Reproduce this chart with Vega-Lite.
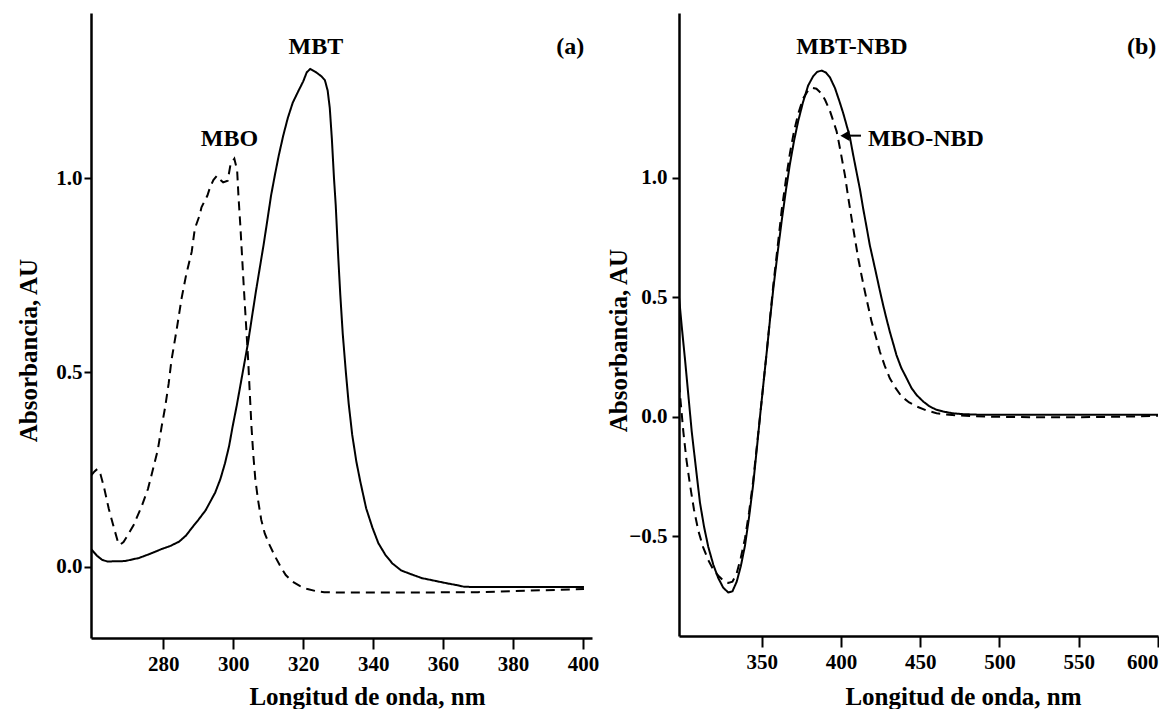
{
  "$schema": "https://vega.github.io/schema/vega-lite/v6.json",
  "background": "white",
  "padding": {"left": 16, "top": 13, "right": 0, "bottom": 0},
  "bounds": "flush",
  "spacing": 87,
  "config": {
    "view": {"stroke": null},
    "font": "Liberation Serif",
    "axis": {
      "grid": false,
      "domainColor": "black",
      "domainWidth": 2.5,
      "tickColor": "black",
      "tickWidth": 2,
      "labelColor": "black",
      "labelFont": "Liberation Serif",
      "labelFontWeight": "bold",
      "labelFontSize": 21,
      "titleColor": "black",
      "titleFont": "Liberation Serif",
      "titleFontWeight": "bold",
      "titleFontSize": 25
    }
  },
  "datasets": {
    "a": [
      {"nm": 259.3, "A": 0.045, "s": "MBT"}, {"nm": 261, "A": 0.028, "s": "MBT"}, {"nm": 262.5, "A": 0.017, "s": "MBT"}, {"nm": 264, "A": 0.013, "s": "MBT"}, {"nm": 269, "A": 0.014, "s": "MBT"}, {"nm": 273, "A": 0.022, "s": "MBT"}, {"nm": 276, "A": 0.032, "s": "MBT"}, {"nm": 279.5, "A": 0.045, "s": "MBT"}, {"nm": 282, "A": 0.053, "s": "MBT"}, {"nm": 284.5, "A": 0.064, "s": "MBT"}, {"nm": 286.5, "A": 0.08, "s": "MBT"}, {"nm": 288.2, "A": 0.1, "s": "MBT"}, {"nm": 290, "A": 0.12, "s": "MBT"}, {"nm": 292.1, "A": 0.145, "s": "MBT"}, {"nm": 294.8, "A": 0.19, "s": "MBT"}, {"nm": 296.3, "A": 0.225, "s": "MBT"}, {"nm": 297.6, "A": 0.265, "s": "MBT"}, {"nm": 298.8, "A": 0.31, "s": "MBT"}, {"nm": 299.8, "A": 0.36, "s": "MBT"}, {"nm": 301, "A": 0.415, "s": "MBT"}, {"nm": 302.1, "A": 0.47, "s": "MBT"}, {"nm": 303.2, "A": 0.525, "s": "MBT"}, {"nm": 304.2, "A": 0.575, "s": "MBT"}, {"nm": 305.3, "A": 0.64, "s": "MBT"}, {"nm": 306.5, "A": 0.71, "s": "MBT"}, {"nm": 307.6, "A": 0.77, "s": "MBT"}, {"nm": 308.7, "A": 0.83, "s": "MBT"}, {"nm": 309.8, "A": 0.895, "s": "MBT"}, {"nm": 310.8, "A": 0.955, "s": "MBT"}, {"nm": 311.9, "A": 1.008, "s": "MBT"}, {"nm": 313, "A": 1.058, "s": "MBT"}, {"nm": 314.3, "A": 1.11, "s": "MBT"}, {"nm": 315.6, "A": 1.155, "s": "MBT"}, {"nm": 317, "A": 1.194, "s": "MBT"}, {"nm": 318.5, "A": 1.222, "s": "MBT"}, {"nm": 320, "A": 1.249, "s": "MBT"}, {"nm": 321, "A": 1.272, "s": "MBT"}, {"nm": 322, "A": 1.281, "s": "MBT"}, {"nm": 323.6, "A": 1.273, "s": "MBT"}, {"nm": 325.2, "A": 1.262, "s": "MBT"}, {"nm": 326.2, "A": 1.252, "s": "MBT"}, {"nm": 327, "A": 1.225, "s": "MBT"}, {"nm": 327.6, "A": 1.18, "s": "MBT"}, {"nm": 328.2, "A": 1.1, "s": "MBT"}, {"nm": 328.8, "A": 1.0, "s": "MBT"}, {"nm": 329.3, "A": 0.93, "s": "MBT"}, {"nm": 330.0, "A": 0.8, "s": "MBT"}, {"nm": 330.6, "A": 0.7, "s": "MBT"}, {"nm": 331.3, "A": 0.6, "s": "MBT"}, {"nm": 332.2, "A": 0.5, "s": "MBT"}, {"nm": 333, "A": 0.42, "s": "MBT"}, {"nm": 334, "A": 0.34, "s": "MBT"}, {"nm": 335.2, "A": 0.27, "s": "MBT"}, {"nm": 336.3, "A": 0.22, "s": "MBT"}, {"nm": 338, "A": 0.15, "s": "MBT"}, {"nm": 339.8, "A": 0.1, "s": "MBT"}, {"nm": 341.5, "A": 0.06, "s": "MBT"}, {"nm": 343.5, "A": 0.03, "s": "MBT"}, {"nm": 345.5, "A": 0.008, "s": "MBT"}, {"nm": 348, "A": -0.01, "s": "MBT"}, {"nm": 350.6, "A": -0.019, "s": "MBT"}, {"nm": 354, "A": -0.03, "s": "MBT"}, {"nm": 357.8, "A": -0.037, "s": "MBT"}, {"nm": 361, "A": -0.043, "s": "MBT"}, {"nm": 364, "A": -0.048, "s": "MBT"}, {"nm": 366, "A": -0.052, "s": "MBT"}, {"nm": 370, "A": -0.053, "s": "MBT"}, {"nm": 380, "A": -0.053, "s": "MBT"}, {"nm": 390, "A": -0.053, "s": "MBT"}, {"nm": 400.3, "A": -0.053, "s": "MBT"},
      {"nm": 259.3, "A": 0.234, "s": "MBO"}, {"nm": 260.3, "A": 0.245, "s": "MBO"}, {"nm": 261.1, "A": 0.251, "s": "MBO"}, {"nm": 262, "A": 0.238, "s": "MBO"}, {"nm": 263, "A": 0.205, "s": "MBO"}, {"nm": 264.4, "A": 0.148, "s": "MBO"}, {"nm": 265.7, "A": 0.105, "s": "MBO"}, {"nm": 267.1, "A": 0.06, "s": "MBO"}, {"nm": 267.6, "A": 0.056, "s": "MBO"}, {"nm": 268.6, "A": 0.063, "s": "MBO"}, {"nm": 269.9, "A": 0.082, "s": "MBO"}, {"nm": 271.5, "A": 0.107, "s": "MBO"}, {"nm": 273.8, "A": 0.155, "s": "MBO"}, {"nm": 275.6, "A": 0.2, "s": "MBO"}, {"nm": 276.6, "A": 0.235, "s": "MBO"}, {"nm": 278.4, "A": 0.3, "s": "MBO"}, {"nm": 279.5, "A": 0.36, "s": "MBO"}, {"nm": 280.5, "A": 0.41, "s": "MBO"}, {"nm": 281.5, "A": 0.47, "s": "MBO"}, {"nm": 282.3, "A": 0.53, "s": "MBO"}, {"nm": 283.8, "A": 0.61, "s": "MBO"}, {"nm": 285.2, "A": 0.69, "s": "MBO"}, {"nm": 286.5, "A": 0.75, "s": "MBO"}, {"nm": 288.1, "A": 0.81, "s": "MBO"}, {"nm": 289, "A": 0.87, "s": "MBO"}, {"nm": 290.4, "A": 0.905, "s": "MBO"}, {"nm": 290.9, "A": 0.925, "s": "MBO"}, {"nm": 292.6, "A": 0.955, "s": "MBO"}, {"nm": 293.3, "A": 0.975, "s": "MBO"}, {"nm": 294.3, "A": 0.995, "s": "MBO"}, {"nm": 295.3, "A": 1.006, "s": "MBO"}, {"nm": 296.2, "A": 0.996, "s": "MBO"}, {"nm": 297.1, "A": 0.989, "s": "MBO"}, {"nm": 298.4, "A": 0.993, "s": "MBO"}, {"nm": 299.2, "A": 1.035, "s": "MBO"}, {"nm": 300.3, "A": 1.05, "s": "MBO"}, {"nm": 301.1, "A": 1.02, "s": "MBO"}, {"nm": 301.5, "A": 0.95, "s": "MBO"}, {"nm": 302, "A": 0.88, "s": "MBO"}, {"nm": 302.5, "A": 0.8, "s": "MBO"}, {"nm": 303, "A": 0.72, "s": "MBO"}, {"nm": 303.6, "A": 0.63, "s": "MBO"}, {"nm": 304.2, "A": 0.54, "s": "MBO"}, {"nm": 304.7, "A": 0.45, "s": "MBO"}, {"nm": 305.2, "A": 0.36, "s": "MBO"}, {"nm": 305.7, "A": 0.29, "s": "MBO"}, {"nm": 306.3, "A": 0.225, "s": "MBO"}, {"nm": 307.1, "A": 0.17, "s": "MBO"}, {"nm": 308, "A": 0.12, "s": "MBO"}, {"nm": 309, "A": 0.085, "s": "MBO"}, {"nm": 310.4, "A": 0.055, "s": "MBO"}, {"nm": 312, "A": 0.025, "s": "MBO"}, {"nm": 313.5, "A": 0.0, "s": "MBO"}, {"nm": 315, "A": -0.022, "s": "MBO"}, {"nm": 316.8, "A": -0.038, "s": "MBO"}, {"nm": 319, "A": -0.05, "s": "MBO"}, {"nm": 321.2, "A": -0.058, "s": "MBO"}, {"nm": 323.5, "A": -0.063, "s": "MBO"}, {"nm": 326, "A": -0.066, "s": "MBO"}, {"nm": 332, "A": -0.067, "s": "MBO"}, {"nm": 350, "A": -0.067, "s": "MBO"}, {"nm": 370, "A": -0.066, "s": "MBO"}, {"nm": 385, "A": -0.062, "s": "MBO"}, {"nm": 393, "A": -0.06, "s": "MBO"}, {"nm": 400.3, "A": -0.058, "s": "MBO"}
    ],
    "b": [
      {"nm": 297.8, "A": 0.5, "s": "MBT-NBD"}, {"nm": 299.5, "A": 0.38, "s": "MBT-NBD"}, {"nm": 301.6, "A": 0.239, "s": "MBT-NBD"}, {"nm": 303.7, "A": 0.09, "s": "MBT-NBD"}, {"nm": 305.8, "A": -0.06, "s": "MBT-NBD"}, {"nm": 308.4, "A": -0.21, "s": "MBT-NBD"}, {"nm": 311, "A": -0.358, "s": "MBT-NBD"}, {"nm": 313.6, "A": -0.46, "s": "MBT-NBD"}, {"nm": 316.3, "A": -0.545, "s": "MBT-NBD"}, {"nm": 319.5, "A": -0.62, "s": "MBT-NBD"}, {"nm": 322.6, "A": -0.675, "s": "MBT-NBD"}, {"nm": 325.7, "A": -0.715, "s": "MBT-NBD"}, {"nm": 328.9, "A": -0.735, "s": "MBT-NBD"}, {"nm": 331.5, "A": -0.73, "s": "MBT-NBD"}, {"nm": 334.2, "A": -0.69, "s": "MBT-NBD"}, {"nm": 336.8, "A": -0.625, "s": "MBT-NBD"}, {"nm": 339.4, "A": -0.54, "s": "MBT-NBD"}, {"nm": 342, "A": -0.42, "s": "MBT-NBD"}, {"nm": 344.6, "A": -0.283, "s": "MBT-NBD"}, {"nm": 346.8, "A": -0.14, "s": "MBT-NBD"}, {"nm": 348.9, "A": 0.0, "s": "MBT-NBD"}, {"nm": 351, "A": 0.135, "s": "MBT-NBD"}, {"nm": 353.1, "A": 0.268, "s": "MBT-NBD"}, {"nm": 355.2, "A": 0.405, "s": "MBT-NBD"}, {"nm": 357.3, "A": 0.536, "s": "MBT-NBD"}, {"nm": 360, "A": 0.685, "s": "MBT-NBD"}, {"nm": 362.6, "A": 0.82, "s": "MBT-NBD"}, {"nm": 365.2, "A": 0.945, "s": "MBT-NBD"}, {"nm": 367.8, "A": 1.058, "s": "MBT-NBD"}, {"nm": 370.4, "A": 1.155, "s": "MBT-NBD"}, {"nm": 373, "A": 1.237, "s": "MBT-NBD"}, {"nm": 376, "A": 1.315, "s": "MBT-NBD"}, {"nm": 379.3, "A": 1.386, "s": "MBT-NBD"}, {"nm": 382.5, "A": 1.425, "s": "MBT-NBD"}, {"nm": 385, "A": 1.443, "s": "MBT-NBD"}, {"nm": 387.8, "A": 1.448, "s": "MBT-NBD"}, {"nm": 390.5, "A": 1.44, "s": "MBT-NBD"}, {"nm": 393, "A": 1.42, "s": "MBT-NBD"}, {"nm": 396.2, "A": 1.375, "s": "MBT-NBD"}, {"nm": 399, "A": 1.32, "s": "MBT-NBD"}, {"nm": 401.4, "A": 1.27, "s": "MBT-NBD"}, {"nm": 403.5, "A": 1.22, "s": "MBT-NBD"}, {"nm": 405.6, "A": 1.17, "s": "MBT-NBD"}, {"nm": 407.7, "A": 1.095, "s": "MBT-NBD"}, {"nm": 409.8, "A": 1.024, "s": "MBT-NBD"}, {"nm": 412, "A": 0.95, "s": "MBT-NBD"}, {"nm": 414, "A": 0.871, "s": "MBT-NBD"}, {"nm": 416.1, "A": 0.795, "s": "MBT-NBD"}, {"nm": 418.2, "A": 0.717, "s": "MBT-NBD"}, {"nm": 420.3, "A": 0.655, "s": "MBT-NBD"}, {"nm": 422.4, "A": 0.592, "s": "MBT-NBD"}, {"nm": 424.5, "A": 0.528, "s": "MBT-NBD"}, {"nm": 426.6, "A": 0.467, "s": "MBT-NBD"}, {"nm": 428.7, "A": 0.41, "s": "MBT-NBD"}, {"nm": 430.8, "A": 0.356, "s": "MBT-NBD"}, {"nm": 433, "A": 0.305, "s": "MBT-NBD"}, {"nm": 435, "A": 0.258, "s": "MBT-NBD"}, {"nm": 438, "A": 0.205, "s": "MBT-NBD"}, {"nm": 441.4, "A": 0.161, "s": "MBT-NBD"}, {"nm": 444.5, "A": 0.12, "s": "MBT-NBD"}, {"nm": 447.7, "A": 0.091, "s": "MBT-NBD"}, {"nm": 452, "A": 0.063, "s": "MBT-NBD"}, {"nm": 456, "A": 0.043, "s": "MBT-NBD"}, {"nm": 460, "A": 0.03, "s": "MBT-NBD"}, {"nm": 464.5, "A": 0.022, "s": "MBT-NBD"}, {"nm": 470, "A": 0.015, "s": "MBT-NBD"}, {"nm": 477, "A": 0.011, "s": "MBT-NBD"}, {"nm": 490, "A": 0.008, "s": "MBT-NBD"}, {"nm": 520, "A": 0.008, "s": "MBT-NBD"}, {"nm": 560, "A": 0.008, "s": "MBT-NBD"}, {"nm": 600, "A": 0.008, "s": "MBT-NBD"},
      {"nm": 297.8, "A": 0.14, "s": "MBO-NBD"}, {"nm": 300.5, "A": -0.06, "s": "MBO-NBD"}, {"nm": 302.5, "A": -0.18, "s": "MBO-NBD"}, {"nm": 304.7, "A": -0.283, "s": "MBO-NBD"}, {"nm": 307.3, "A": -0.39, "s": "MBO-NBD"}, {"nm": 310, "A": -0.477, "s": "MBO-NBD"}, {"nm": 313, "A": -0.545, "s": "MBO-NBD"}, {"nm": 316.3, "A": -0.6, "s": "MBO-NBD"}, {"nm": 319.5, "A": -0.64, "s": "MBO-NBD"}, {"nm": 322.6, "A": -0.665, "s": "MBO-NBD"}, {"nm": 325.7, "A": -0.685, "s": "MBO-NBD"}, {"nm": 328.9, "A": -0.695, "s": "MBO-NBD"}, {"nm": 331.5, "A": -0.69, "s": "MBO-NBD"}, {"nm": 334.2, "A": -0.655, "s": "MBO-NBD"}, {"nm": 336.8, "A": -0.59, "s": "MBO-NBD"}, {"nm": 339.4, "A": -0.51, "s": "MBO-NBD"}, {"nm": 342, "A": -0.4, "s": "MBO-NBD"}, {"nm": 344.6, "A": -0.268, "s": "MBO-NBD"}, {"nm": 346.8, "A": -0.13, "s": "MBO-NBD"}, {"nm": 348.9, "A": 0.0, "s": "MBO-NBD"}, {"nm": 351, "A": 0.135, "s": "MBO-NBD"}, {"nm": 353.1, "A": 0.268, "s": "MBO-NBD"}, {"nm": 355.2, "A": 0.41, "s": "MBO-NBD"}, {"nm": 357.3, "A": 0.552, "s": "MBO-NBD"}, {"nm": 360, "A": 0.71, "s": "MBO-NBD"}, {"nm": 362.6, "A": 0.865, "s": "MBO-NBD"}, {"nm": 365.2, "A": 0.99, "s": "MBO-NBD"}, {"nm": 367.8, "A": 1.103, "s": "MBO-NBD"}, {"nm": 370.4, "A": 1.195, "s": "MBO-NBD"}, {"nm": 373, "A": 1.267, "s": "MBO-NBD"}, {"nm": 376, "A": 1.33, "s": "MBO-NBD"}, {"nm": 379.3, "A": 1.366, "s": "MBO-NBD"}, {"nm": 382, "A": 1.376, "s": "MBO-NBD"}, {"nm": 384.5, "A": 1.372, "s": "MBO-NBD"}, {"nm": 387.8, "A": 1.351, "s": "MBO-NBD"}, {"nm": 390, "A": 1.325, "s": "MBO-NBD"}, {"nm": 393, "A": 1.28, "s": "MBO-NBD"}, {"nm": 395, "A": 1.24, "s": "MBO-NBD"}, {"nm": 397.2, "A": 1.195, "s": "MBO-NBD"}, {"nm": 398.2, "A": 1.163, "s": "MBO-NBD"}, {"nm": 400, "A": 1.1, "s": "MBO-NBD"}, {"nm": 402.5, "A": 1.01, "s": "MBO-NBD"}, {"nm": 404.5, "A": 0.92, "s": "MBO-NBD"}, {"nm": 406.7, "A": 0.829, "s": "MBO-NBD"}, {"nm": 408.8, "A": 0.745, "s": "MBO-NBD"}, {"nm": 410.9, "A": 0.662, "s": "MBO-NBD"}, {"nm": 413, "A": 0.59, "s": "MBO-NBD"}, {"nm": 415.1, "A": 0.523, "s": "MBO-NBD"}, {"nm": 417.2, "A": 0.46, "s": "MBO-NBD"}, {"nm": 419.3, "A": 0.398, "s": "MBO-NBD"}, {"nm": 422, "A": 0.335, "s": "MBO-NBD"}, {"nm": 424.5, "A": 0.273, "s": "MBO-NBD"}, {"nm": 427.5, "A": 0.215, "s": "MBO-NBD"}, {"nm": 430.8, "A": 0.161, "s": "MBO-NBD"}, {"nm": 434.5, "A": 0.12, "s": "MBO-NBD"}, {"nm": 438.2, "A": 0.085, "s": "MBO-NBD"}, {"nm": 443, "A": 0.06, "s": "MBO-NBD"}, {"nm": 447.7, "A": 0.043, "s": "MBO-NBD"}, {"nm": 454, "A": 0.026, "s": "MBO-NBD"}, {"nm": 460.3, "A": 0.015, "s": "MBO-NBD"}, {"nm": 466, "A": 0.01, "s": "MBO-NBD"}, {"nm": 472.9, "A": 0.006, "s": "MBO-NBD"}, {"nm": 485, "A": 0.002, "s": "MBO-NBD"}, {"nm": 498, "A": 0.0, "s": "MBO-NBD"}, {"nm": 520, "A": -0.002, "s": "MBO-NBD"}, {"nm": 550, "A": -0.002, "s": "MBO-NBD"}, {"nm": 575, "A": 0.0, "s": "MBO-NBD"}, {"nm": 600, "A": 0.004, "s": "MBO-NBD"}
    ],
    "ta": [
      {"nm": 323.6, "A": 1.319, "label": "MBT", "al": "center"},
      {"nm": 298.9, "A": 1.083, "label": "MBO", "al": "center"},
      {"nm": 396.4, "A": 1.319, "label": "(a)", "al": "center"}
    ],
    "tb": [
      {"nm": 406.9, "A": 1.518, "label": "MBT-NBD"},
      {"nm": 589.7, "A": 1.518, "label": "(b)"}
    ],
    "tb2": [
      {"nm": 417.0, "A": 1.133, "label": "MBO-NBD"}
    ],
    "arrow": [
      {"nm": 402.5, "nm2": 412.6, "A": 1.176}
    ]
  },
  "hconcat": [
    {
      "width": 501,
      "height": 625,
      "layer": [
        {
          "data": {"name": "a"},
          "mark": {"type": "line", "color": "black", "strokeWidth": 2, "clip": true},
          "encoding": {
            "x": {"field": "nm", "type": "quantitative", "scale": {"domain": [259.3, 402.6], "nice": false, "zero": false},
              "axis": {"values": [280, 300, 320, 340, 360, 380, 400], "title": "Longitud de onda, nm", "tickSize": 11, "labelPadding": 4,
                "titleX": 276, "titleY": 66, "titleBaseline": "alphabetic", "titleAlign": "center", "titleAnchor": null}},
            "y": {"field": "A", "type": "quantitative", "scale": {"domain": [-0.184, 1.425], "nice": false, "zero": false},
              "axis": {"values": [0, 0.5, 1], "format": ".1f", "title": "Absorbancia, AU", "tickSize": 7, "labelPadding": 2,
                "titleX": -55, "titleY": 337, "titleBaseline": "alphabetic", "titleAlign": "center", "titleAngle": -90}},
            "strokeDash": {"field": "s", "type": "nominal", "scale": {"domain": ["MBT", "MBO"], "range": [[1, 0], [9, 6]]}, "legend": null}
          }
        },
        {
          "data": {"name": "ta"},
          "mark": {"type": "text", "font": "Liberation Serif", "fontWeight": "bold", "fontSize": 24, "align": "center", "baseline": "alphabetic", "color": "black"},
          "encoding": {
            "x": {"field": "nm", "type": "quantitative"},
            "y": {"field": "A", "type": "quantitative"},
            "text": {"field": "label", "type": "nominal"}
          }
        }
      ]
    },
    {
      "width": 479,
      "height": 623,
      "layer": [
        {
          "data": {"name": "b"},
          "mark": {"type": "line", "color": "black", "strokeWidth": 2, "clip": true},
          "encoding": {
            "x": {"field": "nm", "type": "quantitative", "scale": {"domain": [297.8, 600], "nice": false, "zero": false},
              "axis": {"values": [350, 400, 450, 500, 550, 600], "title": "Longitud de onda, nm", "tickSize": 11, "labelPadding": 4,
                "titleX": 284, "titleY": 68, "titleBaseline": "alphabetic", "titleAlign": "center", "titleAnchor": null}},
            "y": {"field": "A", "type": "quantitative", "scale": {"domain": [-0.917, 1.689], "nice": false, "zero": false},
              "axis": {"values": [-0.5, 0, 0.5, 1], "format": ".1f", "title": "Absorbancia, AU", "tickSize": 7, "labelPadding": 5,
                "titleX": -53, "titleY": 327, "titleBaseline": "alphabetic", "titleAlign": "center", "titleAngle": -90}},
            "strokeDash": {"field": "s", "type": "nominal", "scale": {"domain": ["MBT-NBD", "MBO-NBD"], "range": [[1, 0], [9, 6]]}, "legend": null}
          }
        },
        {
          "data": {"name": "tb"},
          "mark": {"type": "text", "font": "Liberation Serif", "fontWeight": "bold", "fontSize": 24, "align": "center", "baseline": "alphabetic", "color": "black"},
          "encoding": {
            "x": {"field": "nm", "type": "quantitative"},
            "y": {"field": "A", "type": "quantitative"},
            "text": {"field": "label", "type": "nominal"}
          }
        },
        {
          "data": {"name": "tb2"},
          "mark": {"type": "text", "font": "Liberation Serif", "fontWeight": "bold", "fontSize": 24, "align": "left", "baseline": "alphabetic", "color": "black"},
          "encoding": {
            "x": {"field": "nm", "type": "quantitative"},
            "y": {"field": "A", "type": "quantitative"},
            "text": {"field": "label", "type": "nominal"}
          }
        },
        {
          "data": {"name": "arrow"},
          "mark": {"type": "rule", "color": "black", "strokeWidth": 2},
          "encoding": {
            "x": {"field": "nm", "type": "quantitative"},
            "x2": {"field": "nm2"},
            "y": {"field": "A", "type": "quantitative"}
          }
        },
        {
          "data": {"name": "arrow"},
          "mark": {"type": "point", "shape": "triangle-left", "filled": true, "color": "black", "size": 110, "opacity": 1},
          "encoding": {
            "x": {"field": "nm", "type": "quantitative"},
            "y": {"field": "A", "type": "quantitative"}
          }
        }
      ]
    }
  ]
}
